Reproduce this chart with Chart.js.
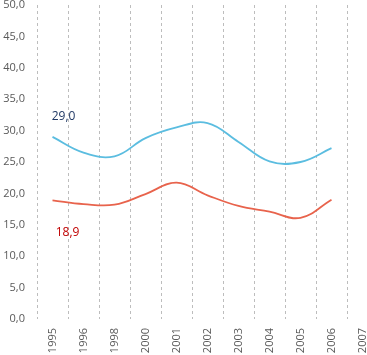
<!DOCTYPE html>
<html>
<head>
<meta charset="utf-8">
<script src="https://cdn.jsdelivr.net/npm/chart.js@4"></script>
<style>
  html, body { margin: 0; padding: 0; background: #fff; overflow: hidden; }
  #wrap { width: 367px; height: 355px; overflow: hidden; }
</style>
</head>
<body>
<div id="wrap"><canvas id="chart" width="378" height="355"></canvas></div>
<script>
// years on the x axis (2007 has no values)
const years = ['1995', '1996', '1998', '2000', '2001', '2002', '2003', '2004', '2005', '2006', '2007'];
// upper (blue) series
const blueValues = [29.0, 26.5, 25.9, 28.8, 30.5, 31.2, 28.2, 25.1, 25.0, 27.2, null];
// lower (red) series
const redValues = [18.9, 18.3, 18.2, 19.9, 21.7, 19.7, 18.0, 17.1, 16.1, 19.0, null];
const yTicks = { min: 0, max: 50, step: 5 };

const fmt = v => v.toFixed(1).replace('.', ',');

// labels next to the first point of each line
const firstLabels = {
    id: 'firstLabels',
    afterDatasetsDraw(chart) {
        const ctx = chart.ctx;
        const x = chart.scales.x, y = chart.scales.y;
        const items = [
            { v: blueValues[0], color: '#1f3864', dx: 11, dy: -20 },
            { v: redValues[0], color: '#c00000', dx: 15, dy: 32 }
        ];
        ctx.save();
        ctx.font = '12px "Open Sans", sans-serif';
        ctx.textAlign = 'center';
        ctx.textBaseline = 'middle';
        items.forEach(it => {
            ctx.fillStyle = it.color;
            ctx.fillText(fmt(it.v), x.getPixelForValue(0) + it.dx, y.getPixelForValue(it.v) + it.dy);
        });
        ctx.restore();
    }
};

new Chart(document.getElementById('chart'), {
    type: 'line',
    data: {
        labels: years,
        datasets: [
            { data: blueValues, borderColor: '#5bbde0', borderWidth: 1.8, pointRadius: 0, tension: 0.4 },
            { data: redValues, borderColor: '#e8634c', borderWidth: 1.8, pointRadius: 0, tension: 0.4 }
        ]
    },
    options: {
        responsive: false,
        animation: false,
        layout: { padding: { top: 5, left: 0, right: 0, bottom: 0 } },
        plugins: { legend: { display: false }, tooltip: { enabled: false } },
        scales: {
            x: {
                offset: true,
                grid: { offset: true, color: '#bdbdbd', lineWidth: 1, drawTicks: false },
                border: { display: false, dash: [3, 3] },
                ticks: {
                    autoSkip: false, minRotation: 90, maxRotation: 90, padding: 9,
                    color: '#595959', font: { family: 'Open Sans', size: 11 }
                },
                afterFit(s) {
                    s.height = 36;
                    s.paddingTop = 0; s.paddingBottom = 0; s.paddingLeft = 0; s.paddingRight = 0;
                }
            },
            y: {
                min: yTicks.min, max: yTicks.max,
                grid: { display: false, drawTicks: false },
                border: { display: false },
                ticks: {
                    stepSize: yTicks.step, padding: 12,
                    color: '#595959', font: { family: 'Open Sans', size: 11 },
                    callback: v => fmt(v)
                },
                afterFit(s) {
                    s.width = 37;
                    s.paddingTop = 0; s.paddingBottom = 0; s.paddingLeft = 0; s.paddingRight = 0;
                }
            }
        }
    },
    plugins: [firstLabels]
});
</script>
</body>
</html>
